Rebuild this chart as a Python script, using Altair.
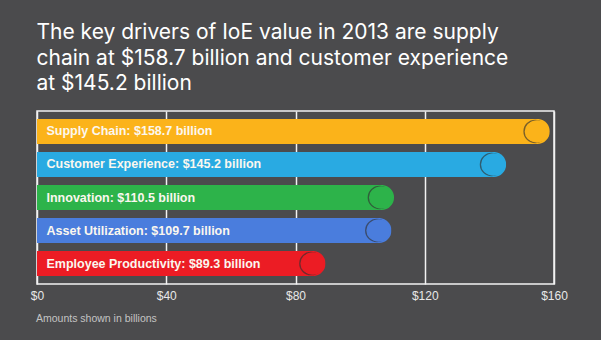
import altair as alt
import pandas as pd

categories = ["Supply Chain", "Customer Experience", "Innovation", "Asset Utilization", "Employee Productivity"]
values = [158.7, 145.2, 110.5, 109.7, 89.3]
labels = ["Supply Chain: $158.7 billion", "Customer Experience: $145.2 billion",
          "Innovation: $110.5 billion", "Asset Utilization: $109.7 billion",
          "Employee Productivity: $89.3 billion"]
colors = ["#FBB31A", "#29AAE2", "#2DB34A", "#4A7DDD", "#EC1C24"]
ticks = [0, 40, 80, 120, 160]
title_lines = ["The key drivers of IoE value in 2013 are supply",
               "chain at $158.7 billion and customer experience",
               "at $145.2 billion"]
footnote = "Amounts shown in billions"

df = pd.DataFrame({"category": categories, "value": values, "label": labels})

FONT = "Liberation Sans"
TFONT = "Inter"
R = 12.6

y_enc = alt.Y("category:N", sort=categories, axis=None,
              scale=alt.Scale(paddingInner=0.24, paddingOuter=0.24))
color_enc = alt.Color("category:N", scale=alt.Scale(domain=categories, range=colors), legend=None)
x_scale = alt.Scale(domain=[0, 160], nice=False, zero=True)

base = alt.Chart(df)

bars = base.mark_bar(cornerRadiusEnd=R).encode(
    x=alt.X("value:Q", scale=x_scale,
            axis=alt.Axis(values=ticks, labelExpr="'$' + datum.value", grid=True,
                          gridColor="#f2f2f2", gridWidth=1.5, gridOpacity=1,
                          domain=False, ticks=False, labelFontSize=12, labelFont=FONT,
                          labelColor="#e8e8e8", labelPadding=6, labelFlush=False,
                          title=footnote, titleFont=FONT, titleFontSize=10.5,
                          titleFontWeight="normal", titleColor="#c4c4c4",
                          titleAnchor="start", titleAlign="left", titleBaseline="alphabetic",
                          titleX=-1.5, titleY=37.5)),
    y=y_enc,
    color=color_enc,
)

ring = base.mark_circle(size=3.14159 * R * R, opacity=1, stroke="#333333",
                        strokeWidth=1.3, strokeOpacity=0.65, xOffset=-R - 2).encode(
    x=alt.X("value:Q", scale=x_scale), y=y_enc, color=color_enc)

cap = base.mark_circle(size=3.14159 * R * R, opacity=1, xOffset=-R).encode(
    x=alt.X("value:Q", scale=x_scale), y=y_enc, color=color_enc)

text = base.mark_text(align="left", baseline="middle", dx=9.5, font=FONT,
                      fontSize=12.5, fontWeight="bold", color="#fbf7ef").encode(
    x=alt.datum(0), y=y_enc, text="label:N")

chart = alt.layer(bars, ring, cap, text).properties(
    width=517, height=173,
    title=alt.TitleParams(text=title_lines, anchor="start", frame="group", font=TFONT,
                          fontSize=21, fontWeight="normal", color="#ffffff",
                          lineHeight=25.5, offset=17, dx=-0.5),
    autosize=alt.AutoSizeParams(type="none"),
    padding={"left": 37, "top": 111, "right": 47, "bottom": 56},
    background="#4b4b4d",
).configure_view(stroke="#f2f2f2", strokeWidth=1.5)

chart.save("out.html", embed_options={"renderer": "svg", "actions": False})
